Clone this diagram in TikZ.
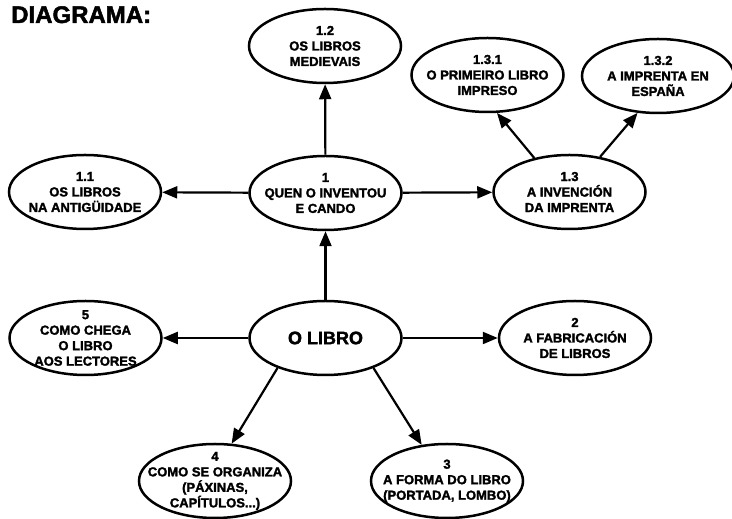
\documentclass[tikz,border=0pt]{standalone}
\usepackage{fontspec}
\setmainfont{Liberation Sans}[BoldFeatures={FakeBold=2}]
\usetikzlibrary{shapes.geometric,arrows.meta}

\tikzset{
  globo/.style={ellipse,draw,line width=2.5pt,minimum width=152pt,minimum height=74pt,inner sep=0pt},
  texto/.style={align=center,font=\bfseries\fontsize{13}{15.5}\selectfont},
  frecha/.style={line width=2.2pt,-{Triangle[length=15pt,width=12pt]}}
}

\begin{document}
\begin{tikzpicture}[x=1pt,y=1pt]
          \useasboundingbox (0,0) rectangle (732,519);
          \node[anchor=base west,inner sep=0pt,font=\bfseries\fontsize{24}{28}\selectfont] (titulo) at (11,496) {DIAGRAMA:};
          \node[globo,label={[texto]center:{1.2\\OS LIBROS\\MEDIEVAIS}}] (l12) at (325,473) {};
          \node[globo,label={[texto]center:{1.3.1\\O PRIMEIRO LIBRO\\IMPRESO}}] (l131) at (487.5,444) {};
          \node[globo,label={[texto]center:{1.3.2\\A IMPRENTA EN\\ESPAÑA}}] (l132) at (658,443) {};
          \node[globo,label={[texto]center:{1.1\\OS LIBROS\\NA ANTIGÜIDADE}}] (l11) at (85,327) {};
          \node[globo,label={[texto]center:{1\\QUEN O INVENTOU\\E CANDO}}] (l1) at (325.5,326) {};
          \node[globo,label={[texto]center:{1.3\\A INVENCIÓN\\DA IMPRENTA}}] (l13) at (569.5,327) {};
          \node[globo,label={[texto]center:{5\\COMO CHEGA\\O LIBRO\\AOS LECTORES}}] (l5) at (85.5,181) {};
          \node[globo,label={[texto,font=\bfseries\fontsize{18}{20}\selectfont]center:{O LIBRO}}] (libro) at (325.5,181) {};
          \node[globo,label={[texto]center:{2\\A FABRICACIÓN\\DE LIBROS}}] (l2) at (575,181) {};
          \node[globo,label={[texto]center:{4\\COMO SE ORGANIZA\\(PÁXINAS,\\CAPÍTULOS...)}}] (l4) at (215,38) {};
          \node[globo,label={[texto]center:{3\\A FORMA DO LIBRO\\(PORTADA, LOMBO)}}] (l3) at (447,38) {};
          \draw[frecha] (l1) -- (l12);
          \draw[frecha] (l1) -- (l11);
          \draw[frecha] (l1) -- (l13);
          \draw[frecha] (l13.136) -- (l131.284);
          \draw[frecha] (l13.49) -- (l132.241);
          \draw[frecha] (libro) -- (l1);
          \draw[frecha] (libro) -- (l5);
          \draw[frecha] (libro) -- (l2);
          \draw[frecha] (libro.212) -- (l4.66);
          \draw[frecha] (libro.328) -- (l3.125);
        \end{tikzpicture}
\end{document}
